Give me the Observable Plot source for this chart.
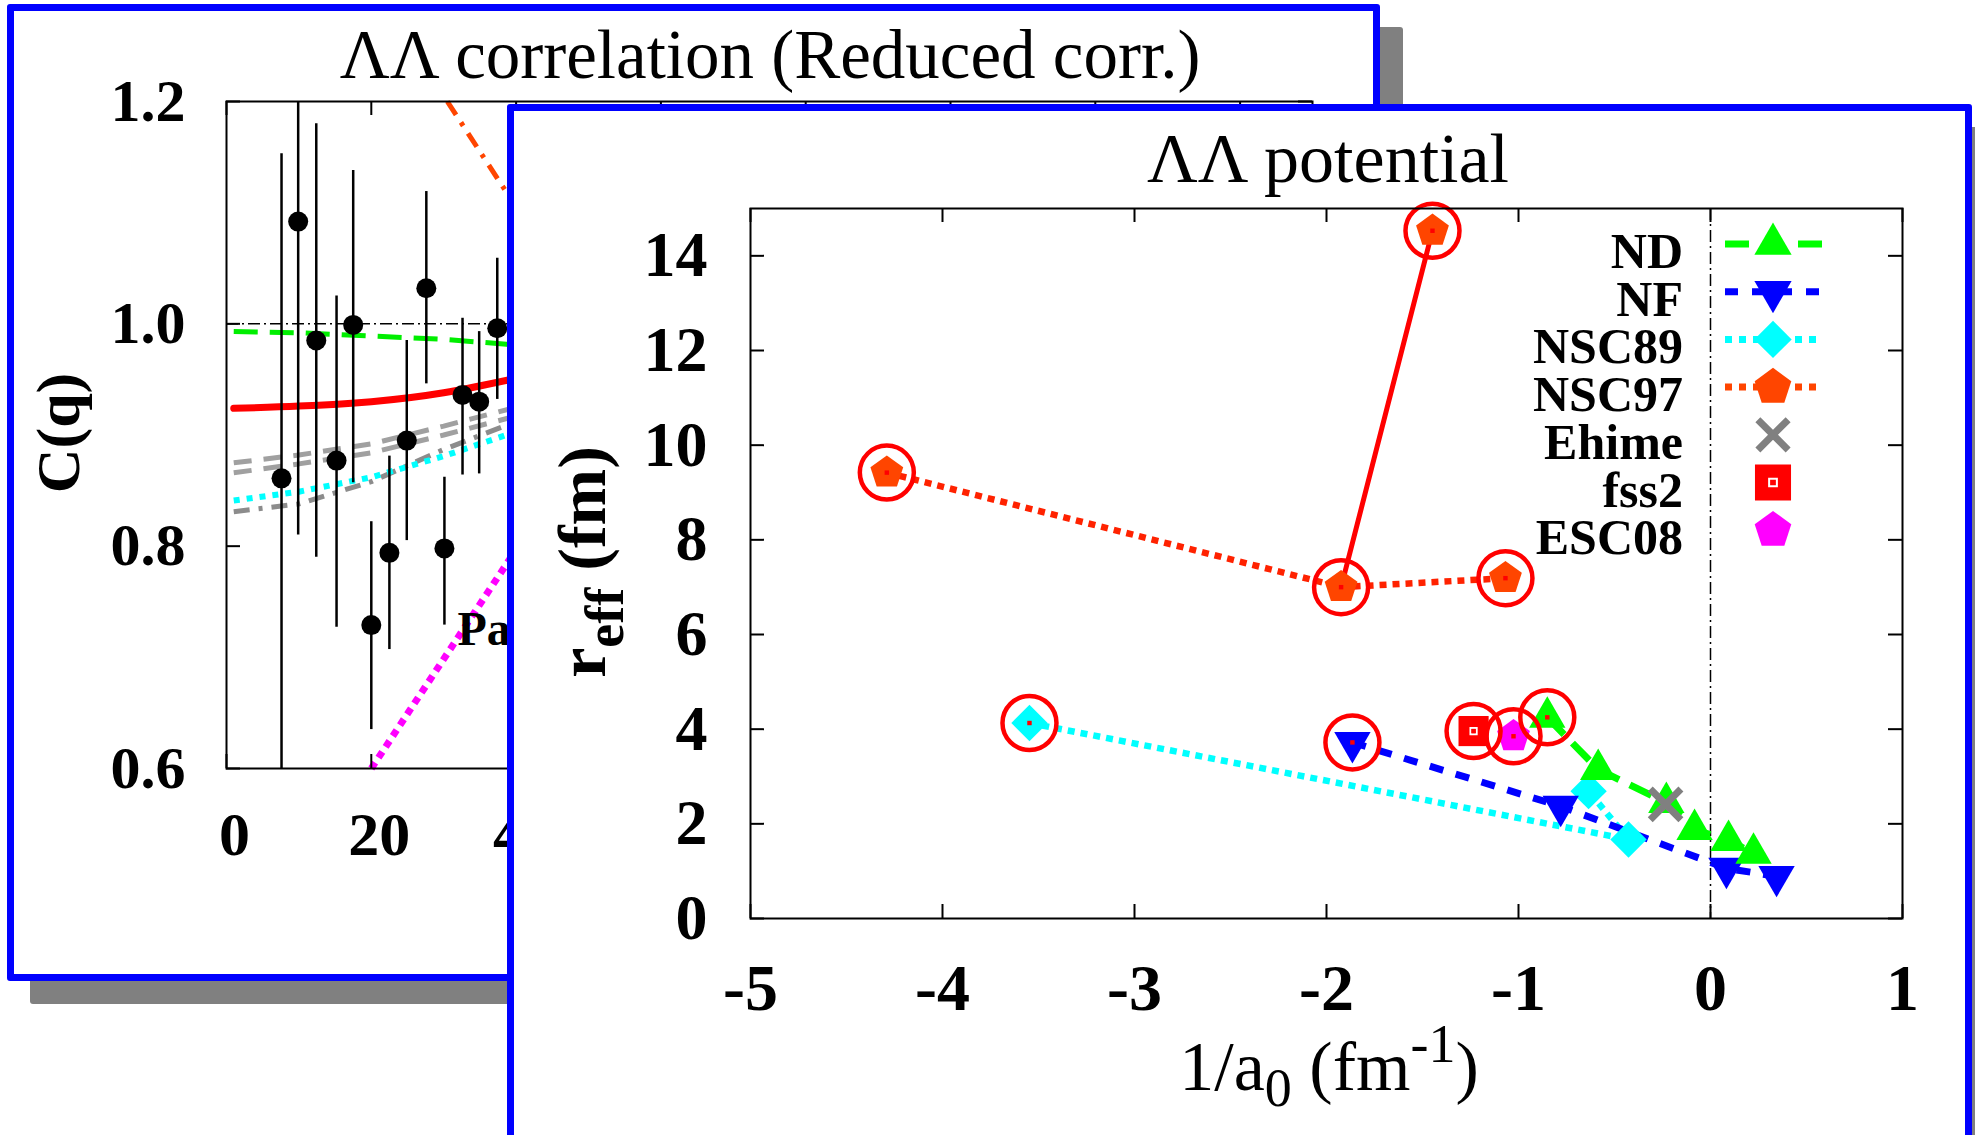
<!DOCTYPE html>
<html><head><meta charset="utf-8">
<script src="https://cdn.jsdelivr.net/npm/d3@7"></script>
<script src="https://cdn.jsdelivr.net/npm/@observablehq/plot@0.6"></script>
<style>
html,body{margin:0;padding:0;background:#fff;width:1975px;height:1135px;overflow:hidden;}
.panel{position:absolute;box-sizing:border-box;border:7px solid #0000ff;background:#fff;border-radius:3px;box-shadow:23px 23px 0 0 #808080;}
#back{left:7px;top:4px;width:1373px;height:977px;}
#front{left:507px;top:104px;width:1465px;height:1060px;}
.panel svg{position:absolute;left:0;top:0;}
</style></head><body>
<div id="back" class="panel"></div>
<div id="front" class="panel"></div>
<script>
const FONT = "'Liberation Serif','Times New Roman',serif";

// ---------- back panel data: ΛΛ correlation ----------
const qData  = [7.6, 9.9, 12.4, 15.2, 17.5, 20.0, 22.5, 24.9, 27.6, 30.1, 32.6, 34.9, 37.4];
const cData  = [0.861, 1.092, 0.985, 0.877, 0.999, 0.729, 0.794, 0.895, 1.032, 0.798, 0.936, 0.930, 0.996];
const cLow   = [0.55, 0.81, 0.79, 0.727, 0.857, 0.635, 0.707, 0.805, 0.946, 0.729, 0.864, 0.865, 0.932];
const cHigh  = [1.153, 1.25, 1.18, 1.025, 1.138, 0.822, 0.881, 0.985, 1.119, 0.862, 1.005, 0.993, 1.059];
const qCurve = [1, 10, 20, 30, 40];
const cFitGreen = [0.993, 0.992, 0.989, 0.986, 0.981];
const cFitRed   = [0.924, 0.926, 0.930, 0.938, 0.951];
const cFitGray1 = [0.875, 0.882, 0.892, 0.908, 0.925];
const cFitGray2 = [0.866, 0.874, 0.884, 0.900, 0.917];
const cFitGray3 = [0.831, 0.838, 0.858, 0.887, 0.912];
const cFitCyan  = [0.841, 0.849, 0.862, 0.881, 0.903];
const qMagenta = [20, 40];   const cMagenta = [0.6, 0.797];
const qOrange  = [30.5, 40]; const cOrange  = [1.2, 1.105];
const backXTicks = [0, 20, 40, 60, 80, 100, 120, 140];
const backXLabels = [0, 20, 40];
const backYTicks = [0.6, 0.8, 1.0, 1.2];
const noteText = ["Pa"]; const noteQ = [31.9]; const noteC = [0.725];

// ---------- front panel data: ΛΛ potential ----------
const ndX    = [-0.85, -0.585, -0.23, -0.083, 0.094, 0.224];
const ndY    = [4.25, 3.15, 2.45, 1.88, 1.65, 1.38];
const nfX    = [-1.865, -0.78, 0.083, 0.344];
const nfY    = [3.72, 2.37, 1.06, 0.89];
const nsc89X = [-3.547, -0.427, -0.635];
const nsc89Y = [4.13, 1.67, 2.69];
const nsc97X = [-4.29, -1.924, -1.068];
const nsc97Y = [9.42, 7.0, 7.19];
const nsc97AltX = [-1.924, -1.448];
const nsc97AltY = [7.0, 14.53];
const ehimeX = [-0.234]; const ehimeY = [2.41];
const fss2X  = [-1.234]; const fss2Y  = [3.96];
const esc08X = [-1.026]; const esc08Y = [3.85];
const circledND = [0], circledNF = [0], circled89 = [0], circled97 = [0, 1, 2], circled97Alt = [1], circledFss2 = [0], circledEsc = [0];
const frontXTicks = [-5, -4, -3, -2, -1, 0, 1];
const frontYTicks = [0, 2, 4, 6, 8, 10, 12, 14];
const legendNames = ["ND", "NF", "NSC89", "NSC97", "Ehime", "fss2", "ESC08"];

// ---------- helpers ----------
const pts = (xs, ys) => xs.map((x, i) => ({x, y: ys[i]}));
const pick = (xs, ys, idx) => idx.map(i => ({x: xs[i], y: ys[i]}));
const pentagon = {
  draw(ctx, size) {
    const R = Math.sqrt(size / 2.3776);
    for (let i = 0; i < 5; i++) {
      const a = -Math.PI / 2 + i * 2 * Math.PI / 5;
      const px = R * Math.cos(a), py = R * Math.sin(a);
      if (i) ctx.lineTo(px, py); else ctx.moveTo(px, py);
    }
    ctx.closePath();
  }
};
const TICK = 14;
const BUTT = {strokeLinecap: "butt", strokeLinejoin: "miter"};

// ---------- back plot ----------
const backW = 1359, backH = 963, bML = 212, bMR = 61, bMT = 90, bMB = 206;
const bIW = backW - bML - bMR, bIH = backH - bMT - bMB;
const errPts = qData.map((q, i) => ({q, c: cData[i], lo: cLow[i], hi: cHigh[i]}));
const curveB = (ys, xs = qCurve) => xs.map((x, i) => ({x, y: ys[i]}));

const backPlot = Plot.plot({
  width: backW, height: backH,
  marginLeft: bML, marginRight: bMR, marginTop: bMT, marginBottom: bMB,
  x: {domain: [0, 150]}, y: {domain: [0.6, 1.2]},
  style: {fontFamily: FONT, background: "transparent", color: "#000", overflow: "visible"},
  marks: [
    Plot.ruleY([1.0], {stroke: "#000", strokeWidth: 1.5, strokeDasharray: "12,4,2,4"}),
    Plot.line(curveB(cFitGray3), {x: "x", y: "y", stroke: "#8c8c8c", strokeWidth: 5, strokeDasharray: "16,9,4,9", ...BUTT}),
    Plot.line(curveB(cFitGray1), {x: "x", y: "y", stroke: "#a0a0a0", strokeWidth: 5, strokeDasharray: "18,12", ...BUTT}),
    Plot.line(curveB(cFitGray2), {x: "x", y: "y", stroke: "#a0a0a0", strokeWidth: 5, strokeDasharray: "18,12", ...BUTT}),
    Plot.line(curveB(cFitCyan), {x: "x", y: "y", stroke: "#00ffff", strokeWidth: 6, strokeDasharray: "6,7", ...BUTT}),
    Plot.line(curveB(cFitGreen), {x: "x", y: "y", stroke: "#00ee00", strokeWidth: 5, strokeDasharray: "24,12", ...BUTT}),
    Plot.line(curveB(cFitRed), {x: "x", y: "y", stroke: "#ff0000", strokeWidth: 7, curve: "natural"}),
    Plot.line(curveB(cMagenta, qMagenta), {x: "x", y: "y", stroke: "#ff00ff", strokeWidth: 7, strokeDasharray: "7,6", ...BUTT}),
    Plot.line(curveB(cOrange, qOrange), {x: "x", y: "y", stroke: "#ff4500", strokeWidth: 5, strokeDasharray: "16,9,4,9", ...BUTT}),
    Plot.ruleX(errPts, {x: "q", y1: "lo", y2: "hi", stroke: "#000", strokeWidth: 2.5, clip: true}),
    Plot.dot(errPts, {x: "q", y: "c", r: 10, fill: "#000"}),
    Plot.text(noteText, {x: (d, i) => noteQ[i], y: (d, i) => noteC[i], text: d => d, textAnchor: "start", fontSize: 48, fontWeight: "bold", fill: "#000"}),
    Plot.frame({stroke: "#000", strokeWidth: 2}),
    Plot.tickY(backYTicks, {y: d => d, insetRight: bIW - TICK, stroke: "#000", strokeWidth: 2}),
    Plot.tickY(backYTicks, {y: d => d, insetLeft: bIW - TICK, stroke: "#000", strokeWidth: 2}),
    Plot.tickX(backXTicks, {x: d => d, insetTop: bIH - TICK, stroke: "#000", strokeWidth: 2}),
    Plot.tickX(backXTicks, {x: d => d, insetBottom: bIH - TICK, stroke: "#000", strokeWidth: 2}),
    Plot.axisY({ticks: backYTicks, tickFormat: d3.format(".1f"), tickSize: 0, tickPadding: 41, fontSize: 60, fontWeight: "bold", label: null}),
    Plot.axisX({ticks: backXLabels, tickFormat: d => String(d), tickSize: 0, tickPadding: 42, fontSize: 62, fontWeight: "bold", label: null, dx: 8})
  ]
});
document.getElementById("back").appendChild(backPlot);
{
  const s = d3.select(backPlot);
  s.append("text").attr("x", 756).attr("y", 67).attr("text-anchor", "middle")
    .attr("font-family", FONT).attr("font-size", 69).attr("fill", "#000")
    .text("ΛΛ correlation (Reduced corr.)");
  s.append("text").attr("transform", "translate(65,422) rotate(-90)").attr("text-anchor", "middle")
    .attr("font-family", FONT).attr("font-size", 62).attr("font-weight", "bold").attr("fill", "#000")
    .text("C(q)");
}

// ---------- front plot ----------
const frontW = 1451, frontH = 1030, fML = 236, fMR = 63, fMT = 97, fMB = 223;
const fIW = frontW - fML - fMR, fIH = frontH - fMT - fMB;
const circled = [
  ...pick(ndX, ndY, circledND), ...pick(nfX, nfY, circledNF), ...pick(nsc89X, nsc89Y, circled89),
  ...pick(nsc97X, nsc97Y, circled97), ...pick(nsc97AltX, nsc97AltY, circled97Alt),
  ...pick(fss2X, fss2Y, circledFss2), ...pick(esc08X, esc08Y, circledEsc)
];
const C_ND = "#00ff00", C_NF = "#0000ff", C_89 = "#00ffff", C_97 = "#ff4500", C_97L = "#ff2200";

const frontPlot = Plot.plot({
  width: frontW, height: frontH,
  marginLeft: fML, marginRight: fMR, marginTop: fMT, marginBottom: fMB,
  x: {domain: [-5, 1]}, y: {domain: [0, 15]},
  style: {fontFamily: FONT, background: "transparent", color: "#000", overflow: "visible"},
  marks: [
    Plot.ruleX([0], {stroke: "#000", strokeWidth: 1.5, strokeDasharray: "12,4,2,4"}),
    Plot.line(pts(nsc97X, nsc97Y), {x: "x", y: "y", stroke: C_97L, strokeWidth: 6.5, strokeDasharray: "7,6", ...BUTT}),
    Plot.line(pts(nsc97AltX, nsc97AltY), {x: "x", y: "y", stroke: "#ff0000", strokeWidth: 5}),
    Plot.line(pts(nsc89X, nsc89Y), {x: "x", y: "y", stroke: C_89, strokeWidth: 6.5, strokeDasharray: "7,6", ...BUTT}),
    Plot.line(pts(nfX, nfY), {x: "x", y: "y", stroke: C_NF, strokeWidth: 7, strokeDasharray: "14,13", ...BUTT}),
    Plot.line(pts(ndX, ndY), {x: "x", y: "y", stroke: C_ND, strokeWidth: 7, strokeDasharray: "24,12", ...BUTT}),
    Plot.dot(pts(nsc89X, nsc89Y), {x: "x", y: "y", symbol: "square", rotate: 45, r: 14.5, fill: C_89}),
    Plot.dot(pts(nfX, nfY), {x: "x", y: "y", symbol: "triangle", rotate: 180, r: 13.5, fill: C_NF}),
    Plot.dot(pts(ndX, ndY), {x: "x", y: "y", symbol: "triangle", r: 13.5, fill: C_ND}),
    Plot.dot(pts(ehimeX, ehimeY), {x: "x", y: "y", symbol: "times", r: 14, stroke: "#808080", strokeWidth: 7, fill: "none"}),
    Plot.dot(pts(fss2X, fss2Y), {x: "x", y: "y", symbol: "square", r: 17, fill: "#ff0000"}),
    Plot.dot(pts(fss2X, fss2Y), {x: "x", y: "y", symbol: "square", r: 3.5, fill: "none", stroke: "#fff", strokeWidth: 2}),
    Plot.dot(pts(esc08X, esc08Y), {x: "x", y: "y", symbol: pentagon, r: 15, fill: "#ff00ff"}),
    Plot.dot(pts(nsc97X, nsc97Y), {x: "x", y: "y", symbol: pentagon, r: 15, fill: C_97}),
    Plot.dot(pts([nsc97AltX[1]], [nsc97AltY[1]]), {x: "x", y: "y", symbol: pentagon, r: 15, fill: C_97}),
    Plot.dot(circled, {x: "x", y: "y", r: 27, fill: "none", stroke: "#ff0000", strokeWidth: 4.5}),
    Plot.dot(circled, {x: "x", y: "y", symbol: "square", r: 2.5, fill: "#ff0000"}),
    Plot.frame({stroke: "#000", strokeWidth: 2}),
    Plot.tickY(frontYTicks, {y: d => d, insetRight: fIW - TICK, stroke: "#000", strokeWidth: 2}),
    Plot.tickY(frontYTicks, {y: d => d, insetLeft: fIW - TICK, stroke: "#000", strokeWidth: 2}),
    Plot.tickX(frontXTicks, {x: d => d, insetTop: fIH - TICK, stroke: "#000", strokeWidth: 2}),
    Plot.tickX(frontXTicks, {x: d => d, insetBottom: fIH - TICK, stroke: "#000", strokeWidth: 2}),
    Plot.axisY({ticks: frontYTicks, tickFormat: d => String(d), tickSize: 0, tickPadding: 43, fontSize: 64, fontWeight: "bold", label: null}),
    Plot.axisX({ticks: frontXTicks, tickFormat: d => String(d), tickSize: 0, tickPadding: 45, fontSize: 66, fontWeight: "bold", label: null})
  ]
});
document.getElementById("front").appendChild(frontPlot);
{
  const s = d3.select(frontPlot);
  s.append("text").attr("x", 814).attr("y", 71).attr("text-anchor", "middle")
    .attr("font-family", FONT).attr("font-size", 70).attr("fill", "#000")
    .text("ΛΛ potential");
  // x label
  const xl = s.append("text").attr("x", 815).attr("y", 979).attr("text-anchor", "middle")
    .attr("font-family", FONT).attr("font-size", 70).attr("fill", "#000");
  xl.append("tspan").text("1/a");
  xl.append("tspan").attr("font-size", 54).attr("dy", 16).text("0");
  xl.append("tspan").attr("dy", -16).text(" (fm");
  xl.append("tspan").attr("font-size", 54).attr("dy", -28).text("-1");
  xl.append("tspan").attr("dy", 28).text(")");
  // y label
  const yl = s.append("text").attr("transform", "translate(91,451) rotate(-90)").attr("text-anchor", "middle")
    .attr("font-family", FONT).attr("font-size", 68).attr("font-weight", "bold").attr("fill", "#000");
  yl.append("tspan").text("r");
  yl.append("tspan").attr("font-size", 54).attr("dy", 18).text("eff");
  yl.append("tspan").attr("dy", -18).text(" (fm)");

  // legend
  const lg = s.append("g");
  const labelX = 1169, lineX1 = 1211, lineX2 = 1308, markX = 1259, base0 = 157, step = 47.7, sampleOff = -24;
  const sym = (type, size) => d3.symbol(type, size)();
  const styles = [
    {line: {stroke: C_ND, w: 7, dash: "24,49"}, mark: {d: sym(d3.symbolTriangle, 600), fill: C_ND}},
    {line: {stroke: C_NF, w: 7, dash: "13,14"}, mark: {d: sym(d3.symbolTriangle, 600), fill: C_NF, rot: 180}},
    {line: {stroke: C_89, w: 7, dash: "7,7"}, mark: {d: sym(d3.symbolSquare, 700), fill: C_89, rot: 45}},
    {line: {stroke: C_97, w: 7, dash: "7,7"}, mark: {d: sym(pentagon, 880), fill: C_97}},
    {mark: {d: sym(d3.symbolTimes, 600), fill: "none", stroke: "#808080", sw: 7}},
    {mark: {d: sym(d3.symbolSquare, 1300), fill: "#ff0000"}, inner: true},
    {mark: {d: sym(pentagon, 880), fill: "#ff00ff"}}
  ];
  legendNames.forEach((name, i) => {
    const yb = base0 + i * step, yc = yb + sampleOff;
    lg.append("text").attr("x", labelX).attr("y", yb).attr("text-anchor", "end")
      .attr("font-family", FONT).attr("font-size", 50).attr("font-weight", "bold").attr("fill", "#000").text(name);
    const st = styles[i];
    if (st.line) lg.append("line").attr("x1", lineX1).attr("x2", lineX2).attr("y1", yc).attr("y2", yc)
      .attr("stroke", st.line.stroke).attr("stroke-width", st.line.w).attr("stroke-dasharray", st.line.dash);
    lg.append("path").attr("d", st.mark.d)
      .attr("transform", `translate(${markX},${yc}) rotate(${st.mark.rot || 0})`)
      .attr("fill", st.mark.fill).attr("stroke", st.mark.stroke || "none").attr("stroke-width", st.mark.sw || 0);
    if (st.inner) lg.append("path").attr("d", sym(d3.symbolSquare, 60))
      .attr("transform", `translate(${markX},${yc})`).attr("fill", "none").attr("stroke", "#fff").attr("stroke-width", 2);
  });
}
</script></body></html>
